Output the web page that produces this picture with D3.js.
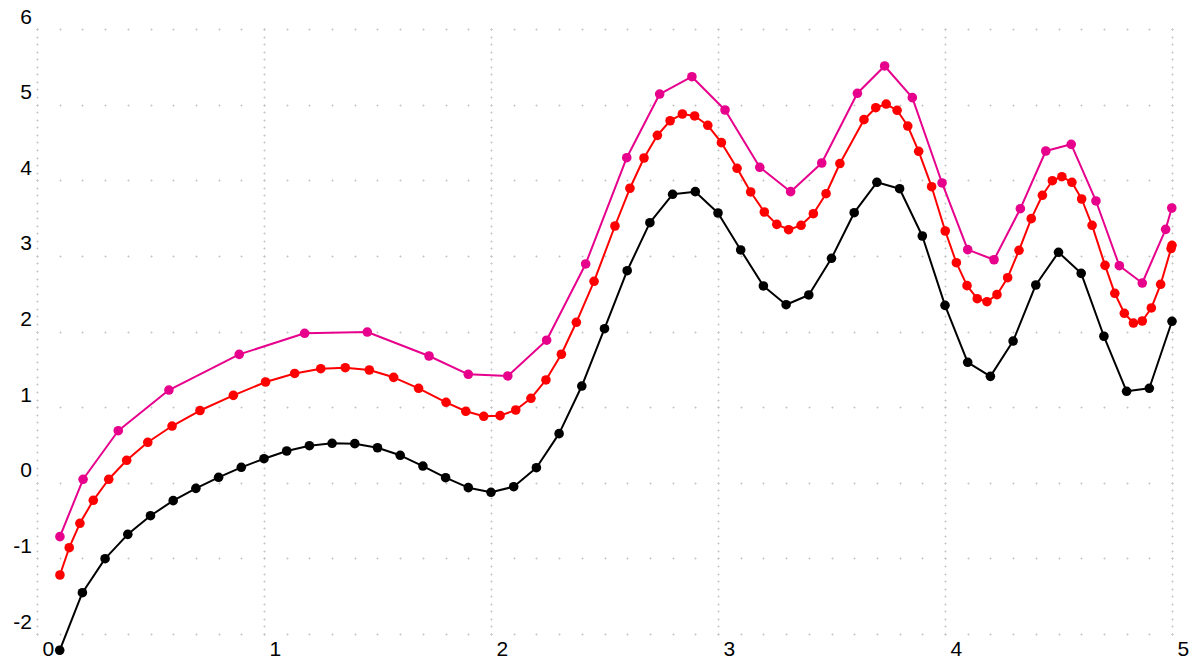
<!DOCTYPE html>
<html>
<head>
<meta charset="utf-8">
<script src="https://cdn.jsdelivr.net/npm/d3@7/dist/d3.min.js"></script>
<style>
html,body{margin:0;padding:0;background:#fff;}
svg{display:block;}
text{font-family:"Liberation Sans",Arial,sans-serif;font-size:21px;fill:#000;}
</style>
</head>
<body>
<svg id="chart" width="1198" height="661"></svg>
<script>
// ---- data ----
const xTicks = [0, 1, 2, 3, 4, 5];
const yTicks = [-2, -1, 0, 1, 2, 3, 4, 5, 6];

const blackX = [0.1,0.2,0.3,0.4,0.5,0.6,0.7,0.8,0.9,1.0,1.1,1.2,1.3,1.4,1.5,1.6,1.7,1.8,1.9,2.0,
                2.1,2.2,2.3,2.4,2.5,2.6,2.7,2.8,2.9,3.0,3.1,3.2,3.3,3.4,3.5,3.6,3.7,3.8,3.9,4.0,
                4.1,4.2,4.3,4.4,4.5,4.6,4.7,4.8,4.9,5.0];
const blackY = [-2.215,-1.454,-1.004,-0.682,-0.436,-0.237,-0.074,0.072,0.204,0.318,0.420,0.490,0.522,0.517,0.463,0.363,0.221,0.067,-0.065,-0.126,
                -0.052,0.199,0.649,1.279,2.037,2.804,3.439,3.814,3.849,3.567,3.078,2.602,2.354,2.483,2.968,3.571,3.973,3.888,3.263,2.346,
                1.593,1.407,1.874,2.615,3.047,2.769,1.937,1.209,1.249,2.135];

const redX = [0.101,0.142,0.189,0.248,0.316,0.395,0.488,0.595,0.718,0.865,1.007,1.135,1.250,1.358,1.464,1.571,1.681,1.802,1.889,1.968,
              2.040,2.109,2.176,2.242,2.310,2.376,2.454,2.546,2.612,2.674,2.733,2.789,2.843,2.897,2.955,3.015,3.084,3.144,3.204,3.259,
              3.311,3.366,3.420,3.476,3.537,3.643,3.695,3.741,3.789,3.836,3.884,3.941,4.001,4.050,4.097,4.142,4.185,4.229,4.276,4.326,
              4.380,4.429,4.473,4.515,4.559,4.602,4.648,4.705,4.748,4.790,4.830,4.869,4.909,4.950,4.996,5.0];
const redY = [-1.220,-0.859,-0.536,-0.232,0.046,0.297,0.535,0.750,0.955,1.156,1.332,1.445,1.508,1.521,1.491,1.394,1.249,1.064,0.945,0.879,
              0.887,0.962,1.117,1.359,1.699,2.122,2.664,3.395,3.894,4.294,4.594,4.787,4.876,4.850,4.727,4.497,4.158,3.845,3.580,3.417,
              3.346,3.404,3.558,3.822,4.221,4.801,4.959,5.008,4.925,4.717,4.383,3.915,3.329,2.910,2.606,2.434,2.394,2.487,2.711,3.074,
              3.492,3.801,3.994,4.047,3.973,3.752,3.404,2.875,2.505,2.241,2.112,2.139,2.311,2.624,3.097,3.140];

const pinkX = [0.101,0.203,0.358,0.581,0.891,1.179,1.455,1.727,1.900,2.074,2.245,2.417,2.598,2.743,2.885,3.031,3.184,3.320,3.457,3.614,
               3.734,3.856,3.987,4.100,4.216,4.332,4.444,4.556,4.665,4.768,4.869,4.972,4.999];
const pinkY = [-0.713,0.046,0.688,1.226,1.698,1.976,1.993,1.676,1.434,1.412,1.885,2.893,4.298,5.140,5.369,4.929,4.171,3.849,4.228,5.150,
               5.511,5.092,3.964,3.082,2.949,3.624,4.387,4.475,3.726,2.870,2.641,3.351,3.633];

const seriesColors = ["#000000", "#ff0000", "#e6008c"];

// ---- drawing ----
const svg = d3.select("#chart");
const x = d3.scaleLinear().domain([0, 5]).range([37, 1172]);
const y = d3.scaleLinear().domain([-2, 6]).range([634, 29]);

// dotted grid: small crosses every 0.1 along major grid lines
const gridG = svg.append("g").attr("stroke", "#c4c4c4").attr("stroke-width", 1);
const minorX = d3.range(0, 50.5).map(i => i / 10);
const minorY = d3.range(-20, 60.5).map(i => i / 10);
let gp = "";
yTicks.forEach(v => {
  const py = Math.round(y(v)) + 0.5;
  minorX.forEach(m => {
    const px = Math.round(x(m)) + 0.5;
    gp += `M${px-1},${py}h2M${px},${py-1}v2`;
  });
});
xTicks.forEach(v => {
  const px = Math.round(x(v)) + 0.5;
  minorY.forEach(m => {
    const py = Math.round(y(m)) + 0.5;
    gp += `M${px-1},${py}h2M${px},${py-1}v2`;
  });
});
gridG.append("path").attr("d", gp);

// tick labels (D3 axis generators, restyled; plain hyphen minus)
const fmt = d => String(d);
const yAxis = svg.append("g").attr("transform", "translate(32,0)")
  .call(d3.axisLeft(y).tickValues(yTicks).tickSize(0).tickPadding(0).tickFormat(fmt));
yAxis.select(".domain").remove();
yAxis.selectAll("text").attr("font-size", 21).attr("font-family", "Liberation Sans, Arial, sans-serif")
  .attr("dy", "-6").attr("x", 0).attr("text-anchor", "end").attr("fill", "#000");

const xAxis = svg.append("g").attr("transform", "translate(0,656)")
  .call(d3.axisBottom(x).tickValues(xTicks).tickSize(0).tickPadding(0).tickFormat(fmt));
xAxis.select(".domain").remove();
xAxis.selectAll("text").attr("font-size", 21).attr("font-family", "Liberation Sans, Arial, sans-serif")
  .attr("y", 0).attr("dy", 0).attr("x", 5).attr("text-anchor", "start").attr("fill", "#000");

const line = d3.line().x(d => x(d[0])).y(d => y(d[1]));
const series = [
  d3.zip(blackX, blackY),
  d3.zip(redX, redY),
  d3.zip(pinkX, pinkY)
];
series.forEach((pts, i) => {
  const g = svg.append("g");
  g.append("path").datum(pts).attr("d", line)
    .attr("fill", "none").attr("stroke", seriesColors[i]).attr("stroke-width", 2)
    .attr("stroke-linejoin", "round");
  g.selectAll("circle").data(pts).join("circle")
    .attr("cx", d => x(d[0])).attr("cy", d => y(d[1])).attr("r", 4.8)
    .attr("fill", seriesColors[i]);
});
</script>
</body>
</html>
